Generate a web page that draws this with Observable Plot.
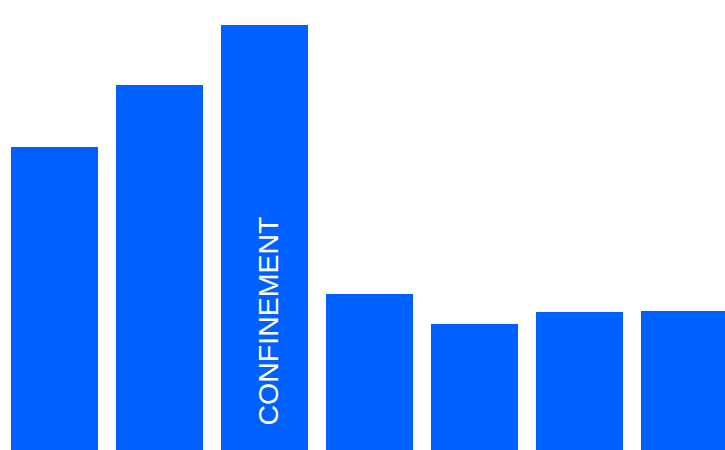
<!DOCTYPE html>
<html>
<head>
<meta charset="utf-8">
<script src="https://cdn.jsdelivr.net/npm/d3@7"></script>
<script src="https://cdn.jsdelivr.net/npm/@observablehq/plot@0.6"></script>
<style>
  html, body { margin: 0; padding: 0; background: #fff; overflow: hidden; }
  svg { display: block; }
</style>
</head>
<body>
<div id="chart"></div>
<script>
const categories = ["P1", "P2", "P3", "P4", "P5", "P6", "P7"];
const values = [303, 365, 425, 156, 126, 138, 139];
const labelCategory = ["P3"];
const labelText = ["CONFINEMENT"];

const data = categories.map((c, i) => ({cat: c, value: values[i]}));
const labels = labelCategory.map((c, i) => ({cat: c, text: labelText[i]}));

const W = 725, H = 450;
const p = 0.1667;
const step = 105.33;
const chart = Plot.plot({
  width: W,
  height: H,
  margin: 0,
  style: {background: "#fff", overflow: "hidden"},
  x: {domain: categories, range: [10, 10 + step * (categories.length - p)], paddingInner: p, paddingOuter: 0, axis: null},
  y: {domain: [0, 450], range: [H, 0], axis: null},
  marks: [
    Plot.barY(data, {x: "cat", y: "value", fill: "#0060ff"}),
    Plot.text(labels, {
      x: "cat", y: 0, text: "text", rotate: -90,
      textAnchor: "start", lineAnchor: "middle",
      fill: "#fff", fontSize: 28.5, fontFamily: "Liberation Sans, Arial, sans-serif",
      dx: 3.5, dy: -25
    })
  ]
});
document.getElementById("chart").appendChild(chart);
</script>
</body>
</html>
